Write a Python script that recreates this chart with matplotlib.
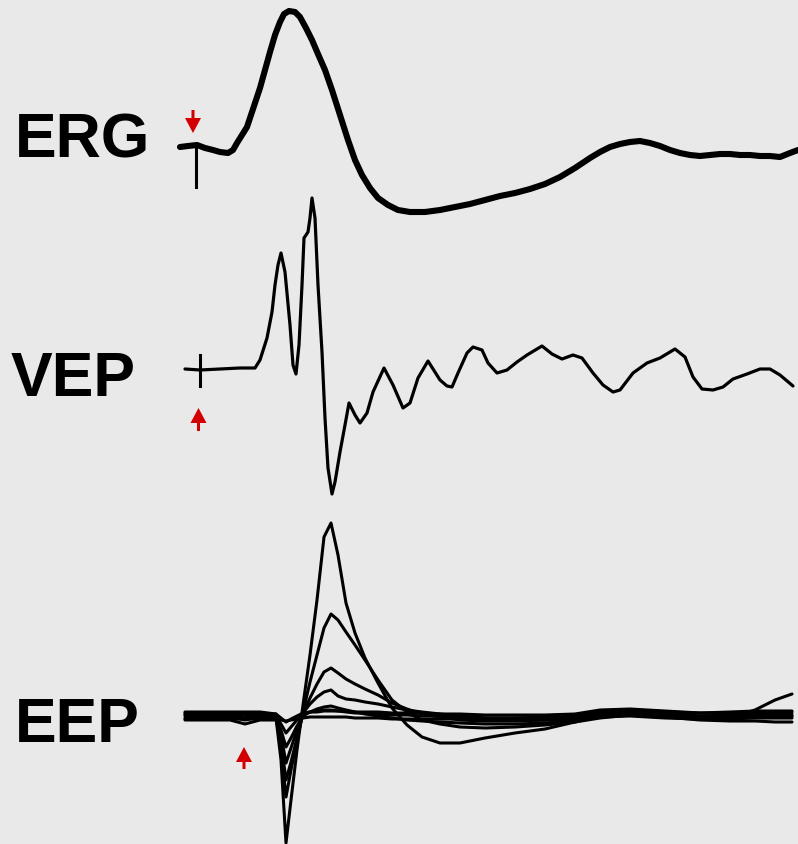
import matplotlib
matplotlib.use("Agg")
import matplotlib.pyplot as plt
import numpy as np

# ---- ERG (time in px-like units, amplitude relative to pre-stimulus baseline)
erg_t = [180, 188, 197, 205, 213, 220, 228, 233, 237, 242, 247, 251, 255, 260, 265, 270,
         275, 280, 284, 289, 295, 300, 306, 312, 318, 325, 332, 340, 348, 355, 362, 370,
         378, 388, 398, 410, 425, 440, 455, 470, 485, 500, 515, 530, 545, 560, 575, 590,
         600, 610, 620, 630, 640, 650, 660, 670, 680, 690, 700, 710, 720, 730, 740, 750,
         760, 770, 780, 790, 798]
erg_amp = [3, 4, 5, 2, 0, -2, -3, 0, 7, 15, 23, 35, 47, 62, 80, 98,
           115, 128, 136, 139, 138, 133, 122, 110, 96, 80, 60, 35, 10, -10, -25, -38,
           -48, -55, -60, -62, -62, -60, -57, -54, -50, -46, -43, -39, -34, -27, -18, -8,
           -2, 3, 6, 8, 9, 7, 4, 0, -3, -5, -6, -5, -4, -4, -5, -5,
           -6, -6, -7, -3, 0]
erg_stim_t = 196
erg_stim_amp = [5, -37]

# ---- VEP
vep_t = [185, 200, 220, 240, 255, 260, 267, 272, 275, 278, 281, 285, 290, 293, 296, 299,
         302, 304, 308, 310, 312, 315, 318, 322, 325, 328, 332, 335, 340, 345, 349, 355,
         360, 367, 373, 384, 393, 403, 410, 418, 428, 440, 447, 452, 458, 467, 473, 482,
         488, 497, 507, 517, 527, 542, 552, 562, 573, 582, 593, 603, 613, 620, 633, 647,
         660, 675, 685, 693, 702, 713, 723, 733, 747, 760, 770, 780, 793]
vep_amp = [0, -1, 0, 1, 1, 9, 31, 57, 84, 104, 116, 97, 44, 4, -5, 24,
           84, 131, 137, 151, 171, 151, 84, 17, -49, -99, -125, -113, -83, -56, -34, -46,
           -54, -44, -23, 1, -16, -39, -34, -9, 8, -11, -17, -18, -4, 16, 22, 19,
           6, -4, -1, 7, 14, 23, 15, 10, 14, 11, -4, -16, -23, -21, -4, 6,
           11, 20, 12, -8, -20, -21, -18, -10, -5, 0, 0, -6, -17]
vep_stim_t = 200
vep_stim_amp = [14, -17]

# ---- EEP (several stimulus intensities, common time grid)
eep_t = [185, 230, 245, 260, 276, 281, 286, 291, 297, 303, 310, 317, 324, 331, 338, 346,
         355, 365, 378, 392, 407, 422, 440, 460, 485, 515, 545, 575, 600, 630, 665, 700,
         730, 755, 775, 792]
eep_amp = [
    [0, -1, -4, -1, -2, -44, -127, -84, -34, 11, 61, 116, 179, 193, 161, 113,
     83, 58, 33, 8, -9, -21, -27, -27, -22, -17, -13, -6, 0, 2, 0, -2, -1, 0, 0, 0],
    [2, 2, -2, 2, 0, -34, -81, -54, -24, 4, 34, 61, 88, 102, 96, 84,
     71, 56, 36, 16, 4, -4, -8, -11, -12, -11, -9, -6, -2, 1, 1, 0, 1, 2, 2, 2],
    [-2, -3, -2, -2, -3, -26, -64, -46, -22, 2, 18, 32, 44, 48, 43, 37,
     32, 27, 21, 13, 7, 2, -1, -4, -5, -5, -4, -3, 0, 2, 0, -3, -3, -2, -2, -2],
    [4, 4, 4, 4, 2, -19, -47, -32, -14, 3, 12, 19, 24, 26, 20, 17,
     16, 14, 12, 9, 6, 4, 2, 0, -2, -2, -1, 0, 4, 6, 4, 3, 4, 5, 5, 5],
    [-4, -4, -8, -4, -4, -14, -31, -22, -10, 0, 4, 7, 9, 10, 8, 6,
     4, 2, 0, -2, -4, -5, -6, -7, -8, -8, -7, -5, 0, 2, -1, -4, -5, -5, -6, -6],
    [1, 1, 1, 1, 0, -8, -17, -11, -4, 2, 4, 5, 6, 6, 5, 4,
     3, 3, 2, 1, 1, 0, 0, -1, -2, -2, -2, -1, 2, 4, 2, 0, 0, 1, 0, 0],
    [3, 3, 3, 3, 2, -2, -6, -3, 0, 3, 4, 4, 5, 5, 5, 5,
     4, 4, 4, 3, 3, 3, 2, 2, 1, 1, 1, 2, 6, 7, 5, 3, 3, 4, 4, 4],
    [-3, -3, -3, -3, -3, -4, -5, -4, -3, -2, -1, -1, -1, -1, -1, -1,
     -2, -2, -2, -3, -3, -3, -3, -3, -4, -4, -4, -3, -1, 0, -2, -3, -2, 6, 16, 22],
]

labels = ["ERG", "VEP", "EEP"]
offsets = [694, 475, 128]          # vertical position of each panel baseline
label_pos = [(15, 686), (11, 448), (15, 102)]
arrows = [(193, 734, -23), (198.5, 413, 23), (244, 75, 22)]  # x, tail, direction

bg = "#e9e9e9"
red = "#d20000"

fig = plt.figure(figsize=(7.98, 8.44), dpi=100, facecolor=bg)
ax = fig.add_axes([0, 0, 1, 1])
ax.set_facecolor(bg)
ax.set_xlim(0, 798)
ax.set_ylim(0, 844)
ax.axis("off")

# ERG
ax.plot(erg_t, np.array(erg_amp) + offsets[0], color="black", lw=4.4,
        solid_joinstyle="round", solid_capstyle="round")
ax.plot([erg_stim_t, erg_stim_t], np.array(erg_stim_amp) + offsets[0], color="black", lw=2.2)

# VEP
ax.plot(vep_t, np.array(vep_amp) + offsets[1], color="black", lw=2.3,
        solid_joinstyle="round", solid_capstyle="round")
ax.plot([vep_stim_t, vep_stim_t], np.array(vep_stim_amp) + offsets[1], color="black", lw=2.2)

# EEP
for amp in eep_amp:
    ax.plot(eep_t, np.array(amp) + offsets[2], color="black", lw=2.2,
            solid_joinstyle="round", solid_capstyle="round")

for lab, (x, y) in zip(labels, label_pos):
    ax.text(x, y, lab, ha="left", va="baseline", fontsize=45,
            fontweight="bold", family="Liberation Sans", color="black")

for x, y0, d in arrows:
    ax.arrow(x, y0, 0, d, width=3, head_width=16, head_length=15,
             length_includes_head=True, color=red, lw=0)

fig.savefig("out.png", dpi=100, facecolor=bg)
